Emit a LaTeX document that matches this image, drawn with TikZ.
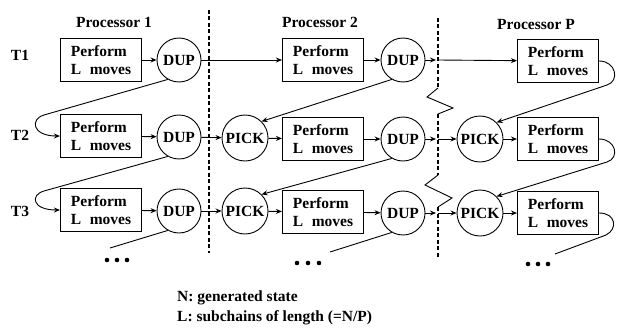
\documentclass[tikz,border=0pt]{standalone}
\usepackage{fontspec}
\setmainfont{Liberation Serif}
\usetikzlibrary{arrows.meta}
\begin{document}
\begin{tikzpicture}[x=1pt,y=-1pt,
  every node/.style={font=\fontsize{15.5}{18.5}\selectfont\bfseries},
  box/.style={draw,line width=1.1pt,minimum width=81pt,minimum height=43pt,align=left,inner sep=0pt},
  circ/.style={draw,circle,line width=0.9pt,minimum size=44pt,inner sep=0pt},
  arr/.style={line width=0.9pt,-{Stealth[length=6pt,width=5pt]}},
  ln/.style={line width=0.9pt},
  sep/.style={line width=1.1pt,dash pattern=on 4pt off 2.5pt},
  dot/.style={circle,fill,inner sep=0pt,minimum size=4.6pt}
]
\useasboundingbox (0,0) rectangle (617,329);
\newcommand{\pl}{Perform\\L\hspace{0.55em}moves}
% headers and row labels
\node (h1) at (114,22) {Processor 1};
\node (h2) at (320,22) {Processor 2};
\node (h3) at (536,25) {Processor P};
\node (t1) at (20,55) {T1};
\node (t2) at (20,135) {T2};
\node (t3) at (20,211) {T3};
% row 1
\node[box] (b11) at (101,60) {\pl};
\node[circ] (d11) at (179,60) {DUP};
\node[box] (b21) at (323,60) {\pl};
\node[circ] (d21) at (403,60) {DUP};
\node[box] (bP1) at (558,61) {\pl};
% row 2
\node[box] (b12) at (101,136) {\pl};
\node[circ] (d12) at (179,137) {DUP};
\node[circ,minimum size=46pt] (p22) at (245,138) {PICK};
\node[box] (b22) at (323,139) {\pl};
\node[circ] (d22) at (403,139) {DUP};
\node[circ,minimum size=46pt] (pP2) at (480,139) {PICK};
\node[box] (bP2) at (558,139) {\pl};
% row 3
\node[box] (b13) at (101,210) {\pl};
\node[circ] (d13) at (179,211) {DUP};
\node[circ,minimum size=46pt] (p23) at (245,211) {PICK};
\node[box] (b23) at (323,212) {\pl};
\node[circ] (d23) at (403,213) {DUP};
\node[circ,minimum size=46pt] (pP3) at (480,213) {PICK};
\node[box] (bP3) at (558,213) {\pl};
% separators
\draw[sep] (209,10) -- (209,253);
\draw[sep] (438,18) -- (438,88);
\draw[ln] (438,88) -- (427,97) -- (453,108) -- (438,114);
\draw[sep] (438,114) -- (438,175);
\draw[ln] (438,175) -- (425,185) -- (452,198) -- (438,207);
\draw[sep] (438,207) -- (438,258);
\coordinate (x1) at (438,60);
\coordinate (x2) at (438,139);
\coordinate (x3) at (438,213);
% row connectors
\draw[arr] (b11) -- (d11);
\draw[arr] (d11) -- (b21);
\draw[arr] (b21) -- (d21);
\draw[arr,shorten >=2pt] (d21) -- (x1);
\draw[arr] (x1) -- (bP1);
\draw[arr] (b12) -- (d12);
\draw[arr] (d12) -- (p22);
\draw[arr] (p22) -- (b22);
\draw[arr] (b22) -- (d22);
\draw[arr,shorten >=2pt] (d22) -- (x2);
\draw[arr] (x2) -- (pP2);
\draw[arr] (pP2) -- (bP2);
\draw[arr] (b13) -- (d13);
\draw[arr] (d13) -- (p23);
\draw[arr] (p23) -- (b23);
\draw[arr] (b23) -- (d23);
\draw[arr,shorten >=2pt] (d23) -- (x3);
\draw[arr] (x3) -- (pP3);
\draw[arr] (pP3) -- (bP3);
% wrap-around connectors
\draw[arr] (d11.240) -- (44,115) .. controls (30,119) and (32,136) .. (b12.west);
\draw[arr] (d12.240) -- (44,191) .. controls (30,195) and (32,210) .. (b13.west);
\draw[arr] (d21.240) -- (p22.45);
\draw[arr] (d22.240) -- (p23.45);
\draw[arr] (bP1.east) .. controls (616,61) and (620,81) .. (607,85) -- (pP2.45);
\draw[arr] (bP2.east) .. controls (616,139) and (620,158) .. (607,162) -- (pP3.45);
\coordinate (e1) at (110,248);
\coordinate (e2) at (330,252);
\coordinate (e3) at (555,254);
\draw[ln] (d13.240) -- (e1);
\draw[ln] (d23.240) -- (e2);
\draw[ln] (bP3.east) .. controls (616,213) and (618,229) .. (606,235) -- (e3);
% ellipses
\node[dot] (k1) at (107,260) {};
\node[dot] (k2) at (117,260) {};
\node[dot] (k3) at (127,260) {};
\node[dot] (k4) at (297,263) {};
\node[dot] (k5) at (308,263) {};
\node[dot] (k6) at (319,263) {};
\node[dot] (k7) at (528,264) {};
\node[dot] (k8) at (538,264) {};
\node[dot] (k9) at (548,264) {};
% legend
\node[anchor=west,inner sep=0pt] (n) at (177,298) {N: generated state};
\node[anchor=west,inner sep=0pt] (l) at (177,318) {L: subchains of length (=N/P)};
\end{tikzpicture}
\end{document}
